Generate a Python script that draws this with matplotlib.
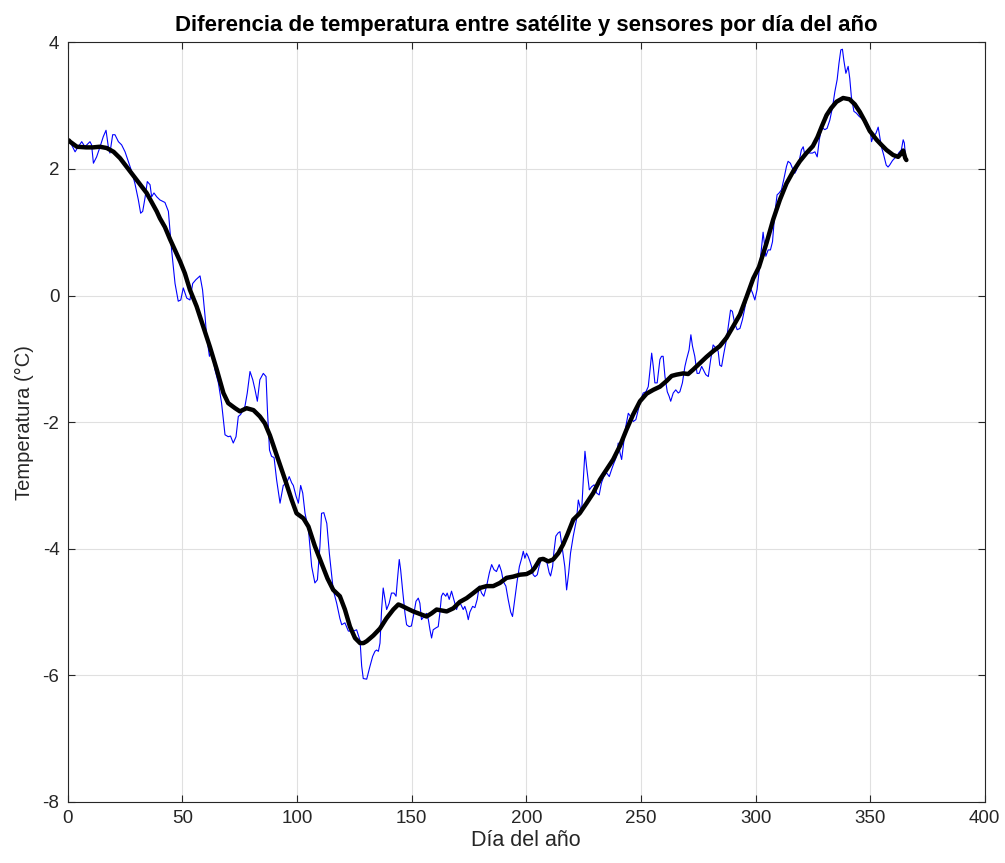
import matplotlib.pyplot as plt

plt.rcParams['font.family'] = ['Liberation Sans', 'DejaVu Sans']
plt.rcParams['axes.unicode_minus'] = False

# blue series: day of year vs temperature difference
dias_azul = [1.0, 3.2, 4.6, 6.1, 7.5, 9.7, 10.4, 11.2, 12.6, 14.1, 15.5, 16.7, 17.7, 18.4,
             19.6, 20.6, 22.1, 23.5, 25.0, 26.4, 27.9, 29.3, 30.8, 31.8, 32.7, 33.7, 34.7,
             35.9, 36.6, 37.6, 38.8, 40.2, 42.4, 43.9, 45.3, 46.8, 48.2, 49.3, 50.4, 51.9,
             53.3, 54.5, 55.9, 57.7, 58.8, 59.9, 60.6, 61.8, 62.8, 64.2, 65.7, 67.1, 68.6,
             70.0, 71.0, 72.2, 73.4, 74.4, 75.4, 77.3, 78.3, 79.5, 80.7, 81.7, 82.7, 83.8,
             85.3, 86.5, 87.1, 88.0, 88.9, 90.0, 91.1, 92.6, 94.0, 95.5, 96.6, 97.7, 98.4,
             99.6, 100.6, 101.6, 102.5, 103.5, 105.0, 106.4, 107.8, 108.9, 110.0, 110.7,
             111.7, 113.0, 114.1, 115.8, 117.3, 118.7, 119.5, 120.9, 122.4, 124.6, 126.0,
             127.5, 128.2, 128.9, 130.4, 131.8, 133.0, 134.0, 134.7, 135.5, 136.2, 136.9,
             137.6, 138.4, 139.1, 140.2, 141.2, 142.3, 143.2, 143.8, 144.6, 145.2, 146.1,
             147.1, 147.8, 148.9, 149.9, 151.0, 151.9, 152.9, 153.6, 154.3, 155.4, 156.5,
             157.3, 158.0, 158.7, 159.4, 160.6, 161.6, 162.3, 163.0, 163.7, 164.9, 165.5,
             166.4, 167.4, 168.4, 169.6, 170.3, 171.2, 172.5, 173.2, 174.0, 174.7, 175.4,
             176.6, 177.6, 178.6, 179.5, 180.5, 181.5, 182.7, 183.9, 184.9, 185.9, 187.0,
             188.2, 189.2, 190.0, 191.1, 192.1, 193.2, 194.0, 195.0, 196.1, 197.0, 198.0,
             198.7, 199.4, 200.1, 200.8, 201.6, 202.3, 203.0, 203.8, 204.8, 205.6, 206.5,
             207.4, 208.6, 209.1, 210.0, 210.6, 211.5, 212.0, 212.9, 213.9, 214.7, 215.4,
             216.1, 216.8, 217.6, 218.5, 219.3, 220.5, 221.9, 222.7, 223.4, 224.1, 224.8,
             225.6, 226.3, 227.5, 228.5, 229.6, 230.7, 231.8, 232.8, 233.8, 235.0, 236.2,
             237.2, 238.2, 239.4, 240.1, 240.9, 241.6, 242.3, 243.4, 244.5, 245.5, 246.7,
             247.8, 248.8, 249.9, 251.0, 252.2, 253.2, 254.0, 254.7, 255.4, 256.1, 257.1,
             258.3, 259.0, 259.7, 260.5, 261.5, 262.3, 263.0, 264.1, 265.2, 266.3, 267.0,
             268.1, 269.2, 269.9, 271.0, 271.8, 272.5, 273.5, 274.5, 275.4, 276.5, 277.2,
             278.3, 279.4, 280.4, 281.5, 282.7, 283.7, 284.4, 285.2, 286.2, 287.3, 288.5,
             289.1, 289.9, 290.9, 292.0, 293.2, 294.3, 295.3, 296.3, 297.5, 298.7, 299.7,
             300.7, 301.9, 303.3, 304.5, 305.5, 306.5, 307.4, 308.4, 309.4, 310.3, 311.3,
             312.3, 313.5, 314.2, 315.2, 316.1, 317.1, 317.8, 319.0, 320.0, 320.8, 321.5,
             322.5, 323.7, 324.8, 325.9, 326.9, 327.8, 328.8, 329.5, 330.2, 331.2, 332.4,
             333.6, 334.6, 335.6, 336.4, 337.2, 337.9, 338.5, 339.4, 340.4, 341.1, 341.8,
             342.9, 344.0, 345.2, 346.2, 347.6, 349.1, 350.0, 350.6, 351.3, 352.5, 353.5,
             354.2, 354.9, 355.9, 357.0, 357.8, 358.5, 359.7, 360.7, 361.4, 362.6, 363.6,
             364.4, 364.9, 365.3]
temp_azul = [2.43, 2.27, 2.35, 2.43, 2.35, 2.43, 2.38, 2.09, 2.19, 2.35, 2.51, 2.61, 2.35, 2.25,
             2.54, 2.54, 2.43, 2.38, 2.27, 2.12, 1.96, 1.77, 1.51, 1.30, 1.33, 1.54, 1.80,
             1.75, 1.56, 1.62, 1.56, 1.51, 1.47, 1.33, 0.72, 0.19, -0.09, -0.07, 0.12, -0.04,
             -0.07, 0.19, 0.25, 0.31, 0.09, -0.33, -0.65, -0.96, -0.86, -1.17, -1.38, -1.70, -2.20,
             -2.23, -2.22, -2.33, -2.23, -1.91, -1.88, -1.75, -1.54, -1.20, -1.33, -1.49, -1.67, -1.33,
             -1.23, -1.28, -1.81, -2.44, -2.54, -2.56, -2.91, -3.28, -3.00, -2.96, -2.86, -2.96, -3.00,
             -3.17, -3.28, -3.00, -3.12, -3.44, -3.70, -4.28, -4.54, -4.49, -3.96, -3.44,
             -3.43, -3.60, -4.07, -4.65, -4.86, -5.10, -5.20, -5.17, -5.30, -5.30, -5.28,
             -5.45, -5.85, -6.05, -6.06, -5.86, -5.70, -5.62, -5.60, -5.62, -5.49, -4.96,
             -4.62, -4.80, -4.96, -4.86, -4.70, -4.70, -4.75, -4.49, -4.17, -4.33, -4.67,
             -5.02, -5.20, -5.23, -5.22, -5.02, -4.83, -4.78, -4.86, -5.12, -5.07, -5.02,
             -5.12, -5.28, -5.41, -5.28, -5.25, -5.23, -5.02, -4.75, -4.70, -4.75, -4.70,
             -4.80, -4.67, -4.80, -4.96, -4.88, -4.86, -4.96, -4.91, -5.00, -5.12, -5.00,
             -4.91, -4.93, -4.80, -4.59, -4.70, -4.75, -4.59, -4.38, -4.25, -4.33, -4.36,
             -4.25, -4.36, -4.52, -4.59, -4.80, -5.00, -5.07, -4.80, -4.49, -4.28, -4.15,
             -4.04, -4.15, -4.07, -4.12, -4.20, -4.28, -4.41, -4.44, -4.41, -4.28, -4.17,
             -4.15, -4.20, -4.23, -4.38, -4.43, -4.28, -4.07, -3.80, -3.75, -3.73, -3.91,
             -4.09, -4.28, -4.65, -4.38, -4.07, -3.80, -3.54, -3.23, -3.33, -3.44, -2.96,
             -2.46, -2.70, -3.07, -3.02, -2.99, -3.12, -3.15, -2.96, -2.86, -2.80, -2.86,
             -2.75, -2.65, -2.54, -2.33, -2.49, -2.59, -2.38, -2.07, -1.86, -1.91, -1.99,
             -1.96, -1.81, -1.65, -1.54, -1.52, -1.44, -1.17, -0.91, -1.12, -1.38, -1.38,
             -1.01, -0.96, -0.96, -1.28, -1.52, -1.59, -1.67, -1.54, -1.49, -1.54, -1.52,
             -1.38, -1.12, -1.01, -0.86, -0.62, -0.80, -0.96, -1.23, -1.23, -1.12, -1.17,
             -1.25, -1.28, -1.02, -0.78, -0.83, -0.88, -1.10, -1.12, -0.91, -0.70, -0.38,
             -0.23, -0.25, -0.44, -0.54, -0.52, -0.38, -0.20, -0.02, 0.14, 0.04, -0.07,
             0.10, 0.50, 1.00, 0.62, 0.72, 0.72, 0.85, 1.30, 1.59, 1.62, 1.67,
             1.83, 2.04, 2.12, 2.09, 2.01, 1.93, 1.98, 2.12, 2.30, 2.35, 2.22,
             2.27, 2.25, 2.25, 2.27, 2.19, 2.46, 2.64, 2.64, 2.62, 2.64, 2.77,
             2.98, 3.22, 3.41, 3.67, 3.88, 3.89, 3.72, 3.51, 3.62, 3.43, 3.14,
             2.91, 2.88, 2.83, 2.80, 2.75, 2.69, 2.62, 2.43, 2.51, 2.56, 2.66,
             2.51, 2.35, 2.22, 2.06, 2.03, 2.06, 2.13, 2.17, 2.19, 2.26, 2.30,
             2.46, 2.41, 2.25]

# black smoothed series
dias_negro = [0.5, 1.0, 4.0, 8.0, 11.0, 14.0, 17.0, 20.0, 22.8, 26.4, 30.0, 34.4, 38.8, 40.2,
              42.4, 44.6, 49.0, 51.1, 53.3, 56.2, 59.1, 62.0, 65.0, 67.9, 70.0, 73.0, 75.1,
              78.0, 81.0, 83.8, 86.0, 88.2, 91.9, 94.8, 97.7, 99.8, 102.8, 105.0, 107.8, 110.7,
              113.3, 115.8, 118.7, 120.9, 123.1, 125.3, 127.5, 129.0, 130.4, 133.3, 136.2,
              139.0, 142.0, 144.2, 145.6, 147.8, 150.7, 154.3, 156.5, 158.7, 160.9, 165.3,
              168.2, 171.0, 174.0, 176.9, 179.7, 182.7, 185.6, 188.5, 191.4, 194.3, 197.2,
              200.1, 202.3, 203.7, 205.9, 207.4, 209.6, 211.7, 214.0, 216.1, 218.0, 220.5,
              223.3, 226.3, 229.2, 232.1, 235.0, 237.9, 240.8, 243.7, 246.6, 249.6, 252.5,
              255.4, 258.3, 261.2, 263.4, 265.5, 268.5, 270.6, 272.8, 275.7, 278.6, 281.5,
              284.4, 287.3, 290.2, 293.2, 296.1, 299.0, 301.5, 304.8, 307.7, 310.6, 313.5,
              316.4, 319.3, 322.2, 325.0, 327.0, 329.0, 331.0, 333.0, 335.3, 338.2, 341.0,
              343.3, 345.5, 347.6, 349.8, 352.8, 354.9, 357.1, 360.0, 362.2, 363.7, 364.4,
              365.3, 365.8]
temp_negro = [2.45, 2.43, 2.35, 2.34, 2.34, 2.35, 2.33, 2.27, 2.17, 2.00, 1.83, 1.62, 1.33, 1.22,
              1.08, 0.89, 0.54, 0.35, 0.09, -0.17, -0.49, -0.81, -1.17, -1.54, -1.70, -1.78, -1.83,
              -1.78, -1.81, -1.91, -2.02, -2.21, -2.60, -2.91, -3.23, -3.44, -3.52, -3.65, -3.96, -4.23,
              -4.47, -4.65, -4.75, -4.96, -5.23, -5.41, -5.49, -5.49, -5.46, -5.37, -5.26,
              -5.10, -4.96, -4.88, -4.90, -4.94, -4.99, -5.04, -5.07, -5.02, -4.96, -4.99,
              -4.94, -4.84, -4.78, -4.70, -4.62, -4.59, -4.59, -4.54, -4.46, -4.44, -4.41,
              -4.40, -4.36, -4.30, -4.17, -4.16, -4.20, -4.17, -4.07, -3.93, -3.77, -3.54,
              -3.44, -3.28, -3.12, -2.91, -2.75, -2.59, -2.38, -2.12, -1.88, -1.67, -1.55,
              -1.49, -1.44, -1.35, -1.27, -1.25, -1.23, -1.24, -1.17, -1.07, -0.97, -0.88,
              -0.80, -0.67, -0.49, -0.30, -0.02, 0.27, 0.45, 0.83, 1.20, 1.51, 1.77,
              1.96, 2.12, 2.25, 2.36, 2.50, 2.68, 2.85, 2.96, 3.06, 3.12, 3.10,
              3.02, 2.90, 2.76, 2.60, 2.46, 2.38, 2.30, 2.22, 2.19, 2.25, 2.29,
              2.17, 2.14]

fig = plt.figure(figsize=(10.05, 8.63), dpi=100)
ax = fig.add_axes([0.0674, 0.0707, 0.9125, 0.8803])

ax.plot(dias_azul, temp_azul, color='#0000ff', linewidth=0.8)
ax.plot(dias_negro, temp_negro, color='black', linewidth=3.2,
        solid_joinstyle='round', solid_capstyle='round')

ax.set_xlim(0, 400)
ax.set_ylim(-8, 4)
ax.set_xticks(range(0, 401, 50))
ax.set_yticks(range(-8, 5, 2))
ax.grid(True, color='#e0e0e0', linewidth=0.8)
ax.set_axisbelow(True)
ax.tick_params(direction='in', top=True, right=True, length=5, width=0.8,
               colors='#262626', labelsize=13.5, pad=6)
for s in ax.spines.values():
    s.set_color('#262626')
    s.set_linewidth(0.8)

ax.set_title('Diferencia de temperatura entre satélite y sensores por día del año',
             fontsize=16, fontweight='bold', pad=8)
ax.set_xlabel('Día del año', fontsize=15.5, color='#262626', labelpad=2)
ax.set_ylabel('Temperatura (°C)', fontsize=14.5, color='#262626', labelpad=6)

fig.savefig('out.png', dpi=100)
